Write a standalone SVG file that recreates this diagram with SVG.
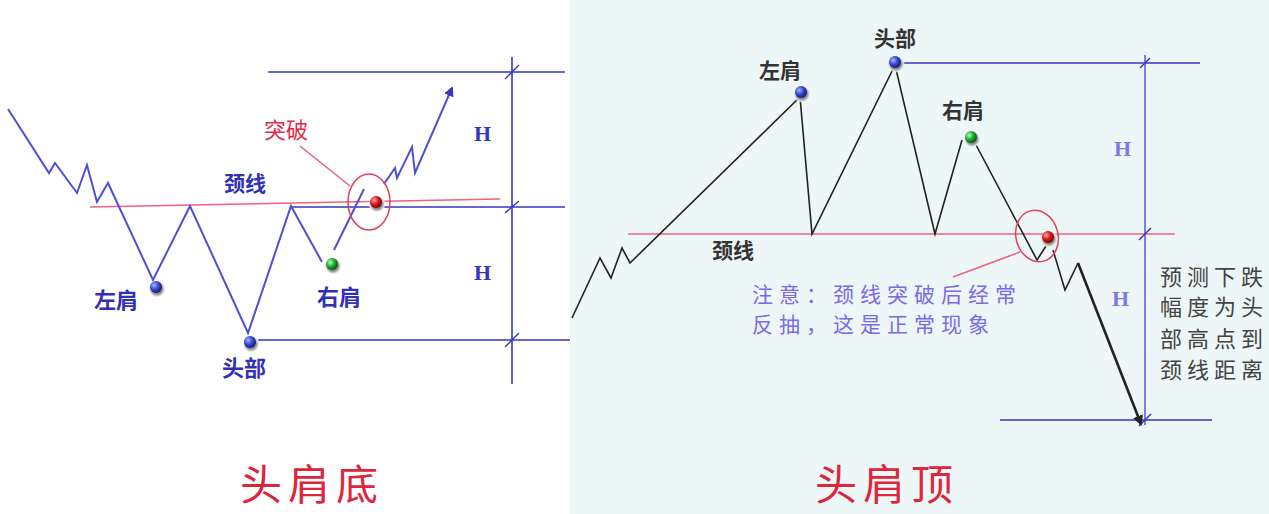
<svg xmlns="http://www.w3.org/2000/svg" width="1269" height="514" viewBox="0 0 1269 514">
<defs>
<style>
.bl{stroke:#3535c0;stroke-width:1.6;fill:none}
.pk{stroke:#f06080;stroke-width:1.6;fill:none}
.pl{stroke:#4f4fd0;stroke-width:2;fill:none;stroke-linejoin:miter}
.kl{stroke:#222;stroke-width:1.6;fill:none}
.tk{stroke:#3535c0;stroke-width:1.4}
.cn{font-family:"Noto Sans CJK SC","Noto Sans CJK JP",sans-serif}
.lb{fill:#3030b8;font-size:22px;font-weight:bold}
.dk{fill:#333;font-size:21px;font-weight:bold}
.nt{fill:#7a6ae6;font-size:21px;letter-spacing:6px}
.rt{fill:#444;font-size:22px;letter-spacing:5px}
.hh{font-family:"Liberation Serif",serif;font-size:22px;font-weight:bold}
.tt{fill:#e0243c;font-size:42px;letter-spacing:6px}
</style>
<radialGradient id="gb" cx="0.35" cy="0.35" r="0.7"><stop offset="0" stop-color="#aab4ff"/><stop offset="0.5" stop-color="#3a4ad0"/><stop offset="1" stop-color="#101a70"/></radialGradient>
<radialGradient id="gg" cx="0.35" cy="0.35" r="0.7"><stop offset="0" stop-color="#b0ffb0"/><stop offset="0.5" stop-color="#20b030"/><stop offset="1" stop-color="#065010"/></radialGradient>
<radialGradient id="gr" cx="0.35" cy="0.35" r="0.7"><stop offset="0" stop-color="#ffb0b0"/><stop offset="0.5" stop-color="#e01818"/><stop offset="1" stop-color="#700000"/></radialGradient>
<radialGradient id="hl" cx="0.5" cy="0.5" r="0.5"><stop offset="0.55" stop-color="#888"/><stop offset="0.8" stop-color="#ddd"/><stop offset="1" stop-color="#fff" stop-opacity="0"/></radialGradient>
<marker id="ab" viewBox="0 0 10 10" refX="8" refY="5" markerWidth="5" markerHeight="5" orient="auto"><path d="M0,0 L10,5 L0,10 z" fill="#3535c0"/></marker>
<marker id="ak" viewBox="0 0 10 10" refX="8" refY="5" markerWidth="4" markerHeight="4" orient="auto"><path d="M0,0 L10,5 L0,10 z" fill="#222"/></marker>
</defs>
<rect x="0" y="0" width="1269" height="514" fill="#ffffff"/>
<rect x="570" y="0" width="699" height="514" fill="#eef7f7"/>

<g id="connectors">
<line class="bl" x1="268" y1="72" x2="565" y2="72"/>
<line class="bl" x1="290" y1="207" x2="565" y2="207"/>
<line class="bl" x1="258" y1="340" x2="570" y2="340"/>
<line class="bl" x1="512" y1="57" x2="512" y2="384"/>
<line class="tk" x1="505" y1="79" x2="519" y2="65"/>
<line class="tk" x1="505" y1="213" x2="519" y2="201"/>
<line class="tk" x1="505" y1="347" x2="519" y2="333"/>
<line class="pk" x1="90" y1="207" x2="500" y2="199"/>
<polyline class="pl" points="8,109 49,173 55,163 77,193 87,165 97,202 108,183 153,280 190,206 248,333 291,206 322,262"/>
<line class="pl" x1="334" y1="250" x2="364" y2="189"/>
<polyline class="pl" points="384,184 395,168 397,178 412,147 415,173 452,88" marker-end="url(#ab)"/>
<ellipse cx="369" cy="202" rx="21" ry="28" fill="none" stroke="#e04060" stroke-width="1.5"/>
<line class="pk" x1="300" y1="146" x2="350" y2="186" stroke-width="1.2"/>
<line class="pk" x1="628" y1="234" x2="1175" y2="234"/>
<line class="bl" x1="902" y1="63" x2="1200" y2="63"/>
<line class="bl" x1="1000" y1="420" x2="1212" y2="420"/>
<line x1="1145" y1="55" x2="1145" y2="425" stroke="#6060e0" stroke-width="1.6"/>
<line class="tk" x1="1140" y1="68" x2="1150" y2="58"/>
<line class="tk" x1="1139" y1="240" x2="1151" y2="228"/>
<line class="tk" x1="1139" y1="426" x2="1151" y2="414"/>
<polyline class="kl" points="572,318 600,258 611,278 622,248 630,263 800,97 812,234 895,65 935,234 962,140"/>
<polyline class="kl" points="975,143 1037,260 1046,246"/>
<polyline class="kl" points="1053,250 1065,290 1078,263"/>
<line x1="1078" y1="263" x2="1141" y2="424" stroke="#222" stroke-width="2.6" marker-end="url(#ak)"/>
<ellipse cx="1037" cy="236" rx="21" ry="26" fill="none" stroke="#e04060" stroke-width="1.5" transform="rotate(-15 1037 236)"/>
<line class="pk" x1="953" y1="277" x2="1020" y2="252" stroke-width="1.3"/>
</g>

<g id="l-left-shoulder">
<circle cx="157" cy="289" r="9" fill="url(#hl)"/>
<circle cx="156" cy="287" r="6" fill="url(#gb)"/>
<text class="cn lb" x="94" y="308">左肩</text>
</g>
<g id="l-head">
<circle cx="251" cy="344" r="9" fill="url(#hl)"/>
<circle cx="250" cy="342" r="6" fill="url(#gb)"/>
<text class="cn lb" x="222" y="376">头部</text>
</g>
<g id="l-right-shoulder">
<circle cx="333" cy="266" r="9" fill="url(#hl)"/>
<circle cx="332" cy="264" r="6" fill="url(#gg)"/>
<text class="cn lb" x="317" y="305">右肩</text>
</g>
<g id="l-breakout">
<circle cx="377" cy="204" r="9" fill="url(#hl)"/>
<circle cx="376" cy="202" r="6" fill="url(#gr)"/>
<text class="cn" x="264" y="138" fill="#e0284a" font-size="22">突破</text>
</g>
<g id="l-neckline">
<text class="cn" x="224" y="191" fill="#3030b8" font-size="21" font-weight="bold">颈线</text>
</g>
<g id="l-h">
<text class="hh" x="474" y="141" fill="#3535c0">H</text>
<text class="hh" x="474" y="280" fill="#3535c0">H</text>
</g>
<g id="l-title">
<text class="cn tt" x="240" y="500">头肩底</text>
</g>

<g id="r-left-shoulder">
<circle cx="802" cy="94" r="9" fill="url(#hl)"/>
<circle cx="801" cy="92" r="6" fill="url(#gb)"/>
<text class="cn dk" x="759" y="78">左肩</text>
</g>
<g id="r-head">
<circle cx="896" cy="64" r="9" fill="url(#hl)"/>
<circle cx="895" cy="62" r="6" fill="url(#gb)"/>
<text class="cn dk" x="874" y="46">头部</text>
</g>
<g id="r-right-shoulder">
<circle cx="972" cy="139" r="9" fill="url(#hl)"/>
<circle cx="971" cy="137" r="6" fill="url(#gg)"/>
<text class="cn dk" x="942" y="118">右肩</text>
</g>
<g id="r-breakout">
<circle cx="1049" cy="239" r="9" fill="url(#hl)"/>
<circle cx="1048" cy="237" r="6" fill="url(#gr)"/>
</g>
<g id="r-neckline">
<text class="cn dk" x="712" y="258">颈线</text>
</g>
<g id="r-note">
<text class="cn nt" x="752" y="302">注意：颈线突破后经常</text>
<text class="cn nt" x="752" y="332">反抽，这是正常现象</text>
</g>
<g id="r-h">
<text class="hh" x="1114" y="156" fill="#7a7ae0">H</text>
<text class="hh" x="1112" y="306" fill="#7a7ae0">H</text>
</g>
<g id="r-forecast">
<text class="cn rt" x="1160" y="285">预测下跌</text>
<text class="cn rt" x="1160" y="315">幅度为头</text>
<text class="cn rt" x="1160" y="347">部高点到</text>
<text class="cn rt" x="1160" y="378">颈线距离</text>
</g>
<g id="r-title">
<text class="cn tt" x="815" y="500">头肩顶</text>
</g>
</svg>
